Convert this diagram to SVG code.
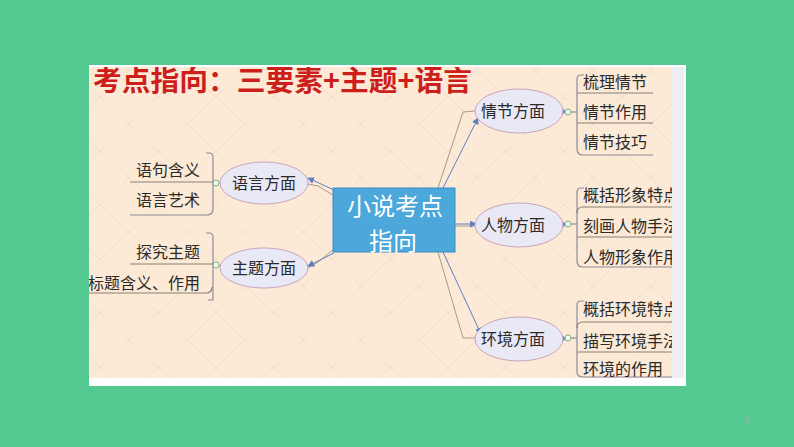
<svg xmlns="http://www.w3.org/2000/svg" width="794" height="447" viewBox="0 0 794 447">
<defs>
<style>
.title{font-family:"Noto Sans CJK SC","Liberation Serif",serif;font-weight:bold;font-size:28px;fill:#CC1F1C}
.lbl{font-family:"Noto Sans CJK SC","Liberation Sans",sans-serif;font-size:16px;fill:#2a2a2a}
.ctr{font-family:"Noto Sans CJK SC","Liberation Sans",sans-serif;font-size:24px;fill:#ffffff;text-anchor:middle}
.ell{fill:#E9E9F6;stroke:#C8A3BC;stroke-width:1}
.tan{fill:none;stroke:#A8998A;stroke-width:1}
.blu{fill:none;stroke:#5C7EC0;stroke-width:1;marker-end:url(#ah)}
.br{fill:none;stroke:#8E8A98;stroke-width:1.2}
.ul{fill:none;stroke:#8a8076;stroke-width:1.2}
.dot{fill:#F4FAF0;stroke:#7FB07F;stroke-width:1}
.fat{fill:#4A88E0}
</style>
<marker id="ah" viewBox="0 0 8 8" refX="7" refY="4" markerWidth="7" markerHeight="7" orient="auto" markerUnits="userSpaceOnUse">
<path d="M0,0 L8,4 L0,8 Z" fill="#5C7EC0"/>
</marker>
<pattern id="dia" width="58" height="54" patternUnits="userSpaceOnUse" x="100" y="70">
<path d="M0,27 L29,0 L58,27 L29,54 Z" fill="none" stroke="#F1DFCB" stroke-width="1"/>
</pattern>
<clipPath id="pc"><rect x="89" y="67" width="583" height="311"/></clipPath>
</defs>
<rect x="0" y="0" width="794" height="447" fill="#53C891"/>
<rect x="89" y="65" width="597" height="321" fill="#FDFDFD"/>
<rect x="89" y="67" width="583" height="311" fill="#FCEAD7"/>
<rect x="89" y="67" width="583" height="311" fill="url(#dia)"/>
<rect x="672" y="67" width="12" height="311" fill="#EDEDF2"/>
<text x="745" y="424" font-family="Liberation Sans, sans-serif" font-size="10" fill="#8FB8A2">8</text>
<g clip-path="url(#pc)">
<text class="title" x="93" y="91" textLength="379" lengthAdjust="spacingAndGlyphs">考点指向：三要素+主题+语言</text>
<g id="connectors">
<path class="tan" d="M438,188 L463,112 L475,111"/>
<path class="blu" d="M443,188 L478,118"/>
<path class="tan" d="M455,226 L475,226"/>
<path class="blu" d="M455,224 L476,224"/>
<path class="tan" d="M438,252 L463,338 L475,338"/>
<path class="blu" d="M443,252 L481,334"/>
<path class="tan" d="M333,195 L318,186 L308,184"/>
<path class="blu" d="M334,190 L308,178"/>
<path class="tan" d="M333,250 L318,262 L308,268"/>
<path class="blu" d="M334,253 L308,266"/>
<path class="tan" d="M216,183 L220,183"/>
<path class="tan" d="M216,265 L220,266"/>
<path class="fat" d="M552,109 L560,109 L560,106 L566,111.5 L560,117 L560,114 L552,114 Z"/>
<path class="fat" d="M552,222 L560,222 L560,219 L566,224.5 L560,230 L560,227 L552,227 Z"/>
<path class="fat" d="M552,336 L560,336 L560,333 L566,338.5 L560,344 L560,341 L552,341 Z"/>
</g>
<g id="center">
<rect x="333" y="188" width="122" height="64" fill="#4CA7DA" stroke="#3B8CC4" stroke-width="1"/>
<text class="ctr" x="395" y="215">小说考点</text>
<text class="ctr" x="393" y="250">指向</text>
</g>
<g id="yuyan">
<ellipse class="ell" cx="264" cy="183" rx="44" ry="21"/>
<text class="lbl" x="264" y="189" text-anchor="middle">语言方面</text>
<path class="br" d="M206,153 L209,153 Q213,153 213,157 L213,209 Q213,215 207,215 L130,215"/>
<path class="ul" d="M130,182 L213,182"/>
<circle class="dot" cx="216" cy="183" r="3"/>
<text class="lbl" x="200" y="176" text-anchor="end">语句含义</text>
<text class="lbl" x="200" y="206" text-anchor="end">语言艺术</text>
</g>
<g id="zhuti">
<ellipse class="ell" cx="264" cy="268" rx="44" ry="20"/>
<text class="lbl" x="264" y="274" text-anchor="middle">主题方面</text>
<path class="br" d="M206,233 L209,233 Q213,233 213,237 L213,300 L208,300"/>
<path class="ul" d="M130,264 L213,264"/>
<path class="ul" d="M89,293 L206,293 Q212,293 212,287"/>
<circle class="dot" cx="216" cy="265" r="3"/>
<text class="lbl" x="200" y="258" text-anchor="end">探究主题</text>
<text class="lbl" x="200" y="289" text-anchor="end">标题含义、作用</text>
</g>
<g id="qingjie">
<ellipse class="ell" cx="519" cy="111" rx="44" ry="22"/>
<text class="lbl" x="513" y="117" text-anchor="middle">情节方面</text>
<circle class="dot" cx="568" cy="112" r="3"/>
<path class="br" d="M571,112 L577,112"/>
<path class="br" d="M584,75 L581,75 Q577,75 577,79 L577,149 Q577,155 583,155 L653,155"/>
<path class="ul" d="M577,93 L653,93"/>
<path class="ul" d="M577,123 L653,123"/>
<text class="lbl" x="583" y="88">梳理情节</text>
<text class="lbl" x="583" y="118">情节作用</text>
<text class="lbl" x="583" y="148">情节技巧</text>
</g>
<g id="renwu">
<ellipse class="ell" cx="519" cy="225" rx="44" ry="22"/>
<text class="lbl" x="513" y="231" text-anchor="middle">人物方面</text>
<circle class="dot" cx="568" cy="224" r="3"/>
<path class="br" d="M571,224 L577,224"/>
<path class="br" d="M584,188 L581,188 Q577,188 577,192 L577,261 Q577,267 583,267 L672,267"/>
<path class="ul" d="M583,207 Q577,207 577,213"/>
<path class="ul" d="M583,207 L672,207"/>
<path class="ul" d="M577,237 L672,237"/>
<text class="lbl" x="583" y="201">概括形象特点</text>
<text class="lbl" x="583" y="232">刻画人物手法</text>
<text class="lbl" x="583" y="263">人物形象作用</text>
</g>
<g id="huanjing">
<ellipse class="ell" cx="519" cy="339" rx="44" ry="22"/>
<text class="lbl" x="513" y="345" text-anchor="middle">环境方面</text>
<circle class="dot" cx="568" cy="338" r="3"/>
<path class="br" d="M571,338 L577,338"/>
<path class="br" d="M584,301 L581,301 Q577,301 577,305 L577,372 Q577,377 583,377 L672,377"/>
<path class="ul" d="M583,322 Q577,322 577,328"/>
<path class="ul" d="M583,322 L672,322"/>
<path class="ul" d="M577,352 L672,352"/>
<text class="lbl" x="583" y="315">概括环境特点</text>
<text class="lbl" x="583" y="347">描写环境手法</text>
<text class="lbl" x="583" y="375">环境的作用</text>
</g>
</g>
</svg>
